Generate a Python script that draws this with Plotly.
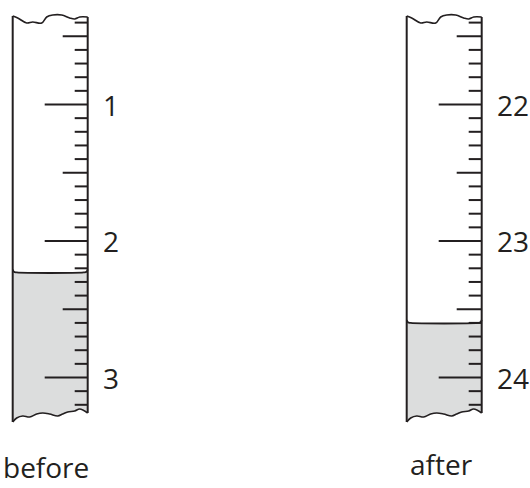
import plotly.graph_objects as go

# ---- data ----
labels_before = [1, 2, 3]
labels_after = [22, 23, 24]
reading_before = 2.23
reading_after = 23.60
grad_before = (0.4, 3.2)     # first / last graduation visible (mL)
grad_after = (21.4, 24.2)
captions = ["before", "after"]

# ---- styling / geometry (pixels) ----
W, H = 530, 488
PX_PER_ML = 136.5
REF_PX = 104.5               # pixel row of the first major label
INK = "#231f20"
LIQ = "#dcdddd"
FONT = "Open Sans"
WALL_X = [12.7, 406.7]
TUBE_W = 75.0
TICK_LEN = {"major": 43, "half": 25, "minor": 13}
TOP_WAVE = [(0, 16), (5, 18), (14, 23), (20, 22), (29, 23), (34, 17), (40, 15),
            (49, 15), (57, 18), (62, 19), (67, 17), (75, 17)]
BOT_WAVE = [(0, 422), (4, 418), (10, 416), (17, 417), (24, 414), (30, 413),
            (37, 414), (45, 416), (50, 414), (55, 412), (62, 411), (67, 409), (75, 413)]

fig = go.Figure()


def burette(idx, labels, reading, grad, yref):
    x0 = WALL_X[idx]
    x1 = x0 + TUBE_W
    base = labels[0]

    def v(px):
        return base + (px - REF_PX) / PX_PER_ML

    # liquid body
    lvl = reading
    bx = [x0 + dx for dx, _ in BOT_WAVE]
    by = [v(py) for _, py in BOT_WAVE]
    poly_x = [x0, x1] + bx[::-1] + [x0]
    poly_y = [lvl, lvl] + by[::-1] + [lvl]
    fig.add_trace(go.Scatter(x=poly_x, y=poly_y, fill="toself", fillcolor=LIQ,
                             mode="lines", line=dict(width=0), yaxis=yref,
                             hoverinfo="skip", showlegend=False))
    # meniscus
    r = 3.0 / PX_PER_ML
    fig.add_trace(go.Scatter(x=[x0, x0 + 1.2, x0 + 4, x1 - 4, x1 - 1.2, x1],
                             y=[lvl - r, lvl - r * 0.2, lvl, lvl, lvl - r * 0.2, lvl - r],
                             mode="lines", line=dict(color=INK, width=1.8, shape="spline"),
                             yaxis=yref, hoverinfo="skip", showlegend=False))
    # walls
    top_l = v(TOP_WAVE[0][1]); top_r = v(TOP_WAVE[-1][1])
    bot_l = v(BOT_WAVE[0][1]); bot_r = v(BOT_WAVE[-1][1])
    fig.add_trace(go.Scatter(x=[x0, x0, None, x1, x1], y=[top_l, bot_l, None, top_r, bot_r],
                             mode="lines", line=dict(color=INK, width=2),
                             yaxis=yref, hoverinfo="skip", showlegend=False))
    # broken ends
    for wave in (TOP_WAVE, BOT_WAVE):
        fig.add_trace(go.Scatter(x=[x0 + dx for dx, _ in wave], y=[v(py) for _, py in wave],
                                 mode="lines", line=dict(color=INK, width=1.6, shape="spline"),
                                 yaxis=yref, hoverinfo="skip", showlegend=False))
    # graduations
    tx, ty = [], []
    n0 = int(round(grad[0] * 10)); n1 = int(round(grad[1] * 10))
    for n in range(n0, n1 + 1):
        val = n / 10
        if n % 10 == 0:
            ln = TICK_LEN["major"]
        elif n % 5 == 0:
            ln = TICK_LEN["half"]
        else:
            ln = TICK_LEN["minor"]
        tx += [x1 - ln, x1, None]
        ty += [val, val, None]
    fig.add_trace(go.Scatter(x=tx, y=ty, mode="lines", line=dict(color=INK, width=2),
                             yaxis=yref, hoverinfo="skip", showlegend=False))
    # labels
    for lab in labels:
        fig.add_annotation(x=x1 + 13.5, y=lab, xref="x", yref=yref, text=str(lab),
                           showarrow=False, xanchor="left", yanchor="middle",
                           font=dict(family=FONT, size=28, color=INK))


burette(0, labels_before, reading_before, grad_before, "y")
burette(1, labels_after, reading_after, grad_after, "y2")

# captions
cap_pos = [(46, 467.0), (441, 463.5)]
for (cx, cy), txt in zip(cap_pos, captions):
    fig.add_annotation(x=cx, y=1 - cy / H, xref="x", yref="paper", text=txt,
                       showarrow=False, xanchor="center", yanchor="middle", borderpad=0,
                       font=dict(family=FONT, size=28, color=INK))


def vrange(base):
    return [base + (H - REF_PX) / PX_PER_ML, base + (0 - REF_PX) / PX_PER_ML]


fig.update_layout(
    width=W, height=H, margin=dict(l=0, r=0, t=0, b=0),
    paper_bgcolor="white", plot_bgcolor="white",
    xaxis=dict(range=[0, W], visible=False, fixedrange=True),
    yaxis=dict(range=vrange(labels_before[0]), visible=False, fixedrange=True),
    yaxis2=dict(range=vrange(labels_after[0]), visible=False, overlaying="y", fixedrange=True),
    showlegend=False,
)

fig.write_html("out.html", config={"displayModeBar": False},
               post_script="document.body.style.margin='0';document.body.style.overflow='hidden';")
